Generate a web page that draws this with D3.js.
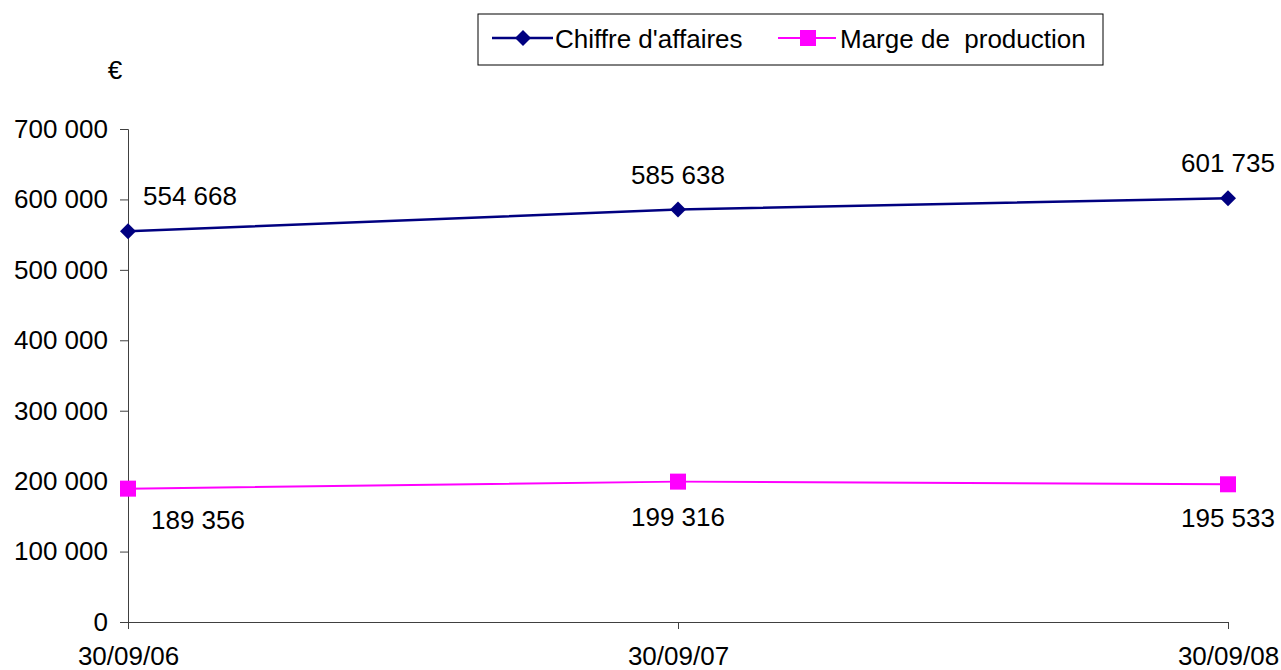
<!DOCTYPE html>
<html>
<head>
<meta charset="utf-8">
<script src="https://cdn.jsdelivr.net/npm/d3@7"></script>
<style>
  body { margin: 0; background: #fff; }
  text { font-family: "Liberation Sans", Arial, sans-serif; font-size: 26px; fill: #000; }
</style>
</head>
<body>
<div id="chart"></div>
<script>
const dates = ["30/09/06", "30/09/07", "30/09/08"];
const chiffre = [554668, 585638, 601735];
const marge = [189356, 199316, 195533];
const yTicks = [0, 100000, 200000, 300000, 400000, 500000, 600000, 700000];

const W = 1281, H = 670;
const margin = {top: 129, right: 53, bottom: 48, left: 128};
const width = W - margin.left - margin.right,
    height = H - margin.top - margin.bottom;

const svg = d3.select("#chart").append("svg")
    .attr("width", W).attr("height", H);
const g = svg.append("g").attr("transform", `translate(${margin.left},${margin.top})`);

const x = d3.scalePoint().domain(dates).range([0, width]);
const y = d3.scaleLinear().domain([0, 700000]).range([height, 0]);
const fmt = v => d3.format(",")(v).replace(/,/g, " ");

// diamond marker as a rotated square
const diamond = r => `M0,${-r}L${r},0L0,${r}L${-r},0Z`;

// axes
const yAxis = g.append("g")
    .call(d3.axisLeft(y).tickValues(yTicks).tickFormat(fmt).tickSize(8).tickPadding(12));
const xAxis = g.append("g").attr("transform", `translate(0,${height})`)
    .call(d3.axisBottom(x).tickSize(7).tickPadding(18));
[yAxis, xAxis].forEach(a => {
    a.select(".domain").attr("stroke", "#404040");
    a.selectAll(".tick line").attr("stroke", "#404040");
    a.selectAll("text").style("font-size", "26px").attr("fill", "#000");
});

svg.append("text").attr("x", 115).attr("y", 79).attr("text-anchor", "middle").text("€");

const line = d3.line().x((d, i) => x(dates[i])).y(d => y(d));

// Chiffre d'affaires
g.append("path").datum(chiffre).attr("d", line)
    .attr("fill", "none").attr("stroke", "#000080").attr("stroke-width", 2.5);
g.selectAll(".dia").data(chiffre).enter().append("path")
    .attr("d", diamond(8))
    .attr("transform", (d, i) => `translate(${x(dates[i])},${y(d)})`)
    .attr("fill", "#000080");

// Marge de production
g.append("path").datum(marge).attr("d", line)
    .attr("fill", "none").attr("stroke", "#FF00FF").attr("stroke-width", 2);
g.selectAll(".sq").data(marge).enter().append("rect")
    .attr("x", (d, i) => x(dates[i]) - 8).attr("y", d => y(d) - 8)
    .attr("width", 16).attr("height", 16).attr("fill", "#FF00FF");

// data labels
const topDx = [62, 0, 0];
g.selectAll(".lblTop").data(chiffre).enter().append("text")
    .attr("x", (d, i) => x(dates[i]) + topDx[i]).attr("y", d => y(d) - 26)
    .attr("text-anchor", "middle").text(fmt);
const botDx = [70, 0, 0];
const botDy = [40, 44, 43];
g.selectAll(".lblBot").data(marge).enter().append("text")
    .attr("x", (d, i) => x(dates[i]) + botDx[i]).attr("y", (d, i) => y(d) + botDy[i])
    .attr("text-anchor", "middle").text(fmt);

// legend
const leg = svg.append("g").attr("transform", "translate(478,14)");
leg.append("rect").attr("width", 625).attr("height", 51)
    .attr("fill", "#fff").attr("stroke", "#000").attr("stroke-width", 1);
leg.append("line").attr("x1", 14).attr("x2", 75).attr("y1", 24).attr("y2", 24)
    .attr("stroke", "#000080").attr("stroke-width", 2.5);
leg.append("path").attr("d", diamond(8))
    .attr("transform", "translate(45,24)").attr("fill", "#000080");
leg.append("text").attr("x", 77).attr("y", 34).text("Chiffre d'affaires");
leg.append("line").attr("x1", 300).attr("x2", 358).attr("y1", 24).attr("y2", 24)
    .attr("stroke", "#FF00FF").attr("stroke-width", 2);
leg.append("rect").attr("x", 322).attr("y", 16).attr("width", 16).attr("height", 16).attr("fill", "#FF00FF");
leg.append("text").attr("x", 362).attr("y", 34).style("white-space", "pre").text("Marge de  production");
</script>
</body>
</html>
